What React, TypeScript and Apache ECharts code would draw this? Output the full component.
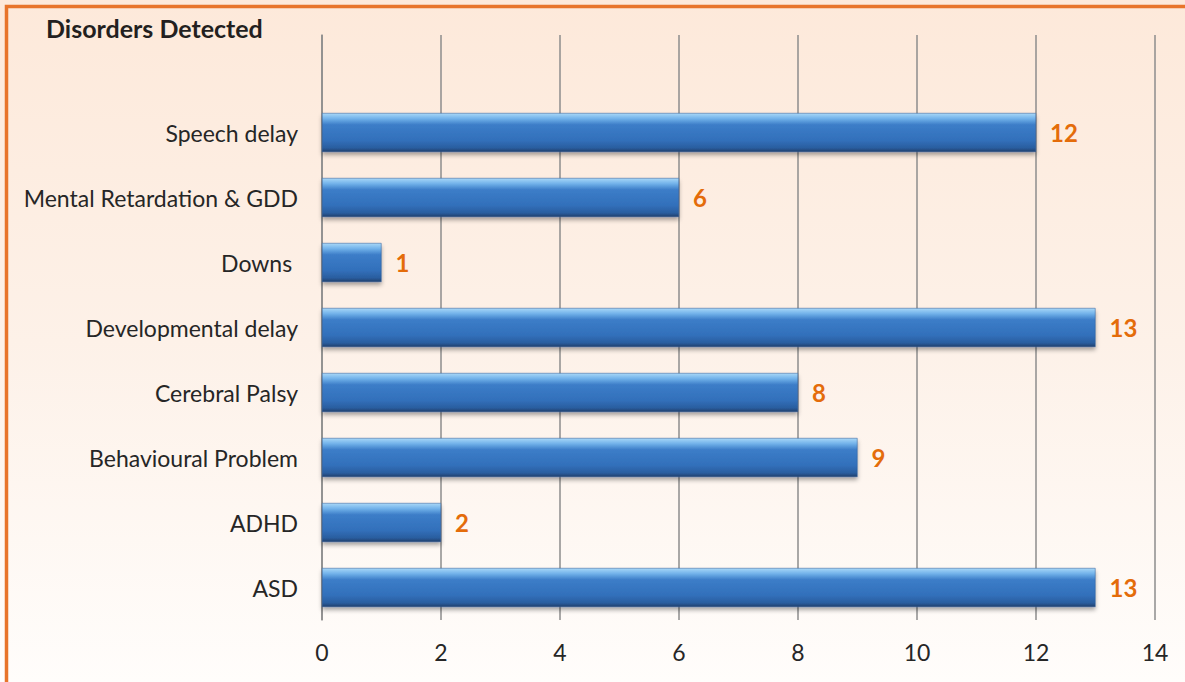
import React, { useEffect, useRef } from "react";
import * as echarts from "echarts";

const categories = [
  "ASD",
  "ADHD",
  "Behavioural Problem",
  "Cerebral Palsy",
  "Developmental delay",
  "Downs ",
  "Mental Retardation & GDD",
  "Speech delay",
];
const values = [13, 2, 9, 8, 13, 1, 6, 12];
const xTicks = [0, 2, 4, 6, 8, 10, 12, 14];
const title = "Disorders Detected";

export default function App() {
  const ref = useRef<HTMLDivElement>(null);
  useEffect(() => {
    if (!ref.current) return;
    const chart = echarts.init(ref.current, null, { renderer: "svg" });
    const font = "Lato, 'Open Sans', sans-serif";
    chart.setOption({
      animation: false,
      title: {
        text: title,
        left: 46,
        top: 15,
        padding: 0,
        textStyle: { fontFamily: font, fontSize: 25, fontWeight: "bold", color: "#231F20" },
      },
      graphic: [
        {
          type: "polyline",
          shape: { points: [[6.5, 700], [6.5, 6.5], [1200, 6.5]] },
          style: { stroke: "#E8742A", lineWidth: 3.5, fill: null },
          silent: true,
        },
      ],
      grid: { left: 322, right: 30, top: 35, bottom: 62, containLabel: false },
      xAxis: {
        type: "value",
        min: xTicks[0],
        max: xTicks[xTicks.length - 1],
        interval: 2,
        axisLine: { show: false },
        axisTick: { show: false },
        axisLabel: { fontFamily: font, fontSize: 23, color: "#262626", margin: 20 },
        splitLine: { show: true, lineStyle: { color: "#8C8C8C", width: 1.5 } },
      },
      yAxis: {
        type: "category",
        data: [...categories, ""],
        axisLine: { show: true, lineStyle: { color: "#8C8C8C", width: 1.5 } },
        axisTick: { show: false },
        axisLabel: { fontFamily: font, fontSize: 23, color: "#262626", margin: 24 },
      },
      series: [
        {
          type: "bar",
          data: [...values, null],
          barWidth: 39,
          itemStyle: {
            color: new echarts.graphic.LinearGradient(0, 0, 0, 1, [
              { offset: 0, color: "#A9D8F8" },
              { offset: 0.14, color: "#72B2EA" },
              { offset: 0.3, color: "#3C7DC8" },
              { offset: 0.7, color: "#3270BB" },
              { offset: 0.9, color: "#2A5E9F" },
              { offset: 1, color: "#203F6C" },
            ]),
            borderColor: "#2A5A96",
            borderWidth: 0.5,
            shadowColor: "rgba(0,0,0,0.35)",
            shadowBlur: 4,
            shadowOffsetY: 3,
          },
          label: {
            show: true,
            position: "right",
            distance: 14,
            fontFamily: font,
            fontSize: 24,
            fontWeight: "bold",
            color: "#E46C0A",
          },
        },
      ],
    });
    return () => chart.dispose();
  }, []);
  return (
    <div
      style={{
        position: "fixed",
        left: 0,
        top: 0,
        width: 1185,
        height: 682,
        background: "linear-gradient(to bottom, #FDE9DA 0%, #FDF1E8 50%, #FFFDFB 100%)",
      }}
    >
      <div ref={ref} style={{ width: 1185, height: 682 }} />
    </div>
  );
}
